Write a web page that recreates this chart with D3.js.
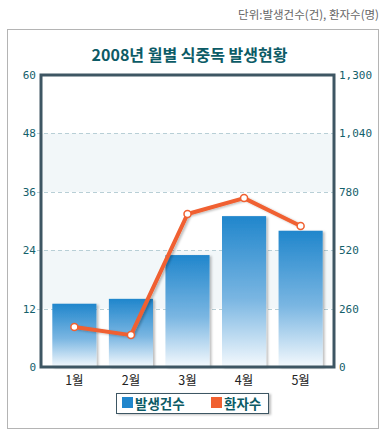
<!DOCTYPE html>
<html>
<head>
<meta charset="utf-8">
<script src="https://cdn.jsdelivr.net/npm/d3@7"></script>
<style>
  body { margin: 0; background: #fff; }
  text { font-family: "Noto Sans CJK KR", "DejaVu Sans", sans-serif; }
</style>
</head>
<body>
<div id="chart"></div>
<script>
// 데이터
const months = ['1월', '2월', '3월', '4월', '5월'];
const cases = [13, 14, 23, 31, 28];          // 발생건수 (건)
const patients = [178, 142, 681, 752, 628];  // 환자수 (명)
const leftTicks = [0, 12, 24, 36, 48, 60];
const rightTicks = [0, 260, 520, 780, 1040, 1300];

const W = 386, H = 438;
const plot = {left: 41, right: 334, top: 75, bottom: 367};

const svg = d3.select('#chart').append('svg')
    .attr('width', W)
    .attr('height', H);

const defs = svg.append('defs');
const grad = defs.append('linearGradient')
    .attr('id', 'barGrad')
    .attr('x1', 0).attr('y1', 0).attr('x2', 0).attr('y2', 1);
grad.append('stop').attr('offset', '0%').attr('stop-color', '#2086cc');
grad.append('stop').attr('offset', '55%').attr('stop-color', '#7ab6e2');
grad.append('stop').attr('offset', '100%').attr('stop-color', '#f4f9fd');

const shadow = defs.append('filter').attr('id', 'shadow')
    .attr('x', '-20%').attr('y', '-20%').attr('width', '150%').attr('height', '150%');
shadow.append('feDropShadow')
    .attr('dx', 2).attr('dy', 1).attr('stdDeviation', 1.2)
    .attr('flood-color', '#000').attr('flood-opacity', 0.25);

// 단위 텍스트
svg.append('text')
    .attr('x', 379).attr('y', 19)
    .attr('text-anchor', 'end')
    .style('font-size', '11.5px')
    .style('fill', '#666')
    .text('단위:발생건수(건), 환자수(명)');

// 바깥 테두리
svg.append('rect')
    .attr('x', 7.5).attr('y', 29.5)
    .attr('width', 371).attr('height', 399)
    .attr('fill', '#fff')
    .attr('stroke', '#b4b4b4');

// 제목
svg.append('text')
    .attr('x', (plot.left + plot.right) / 2 + 2).attr('y', 61)
    .attr('text-anchor', 'middle')
    .style('font-size', '16px')
    .style('font-weight', 'bold')
    .style('fill', '#0c5b66')
    .text('2008년 월별 식중독 발생현황');

// 스케일
const x = d3.scaleBand()
    .domain(months)
    .range([plot.left, plot.right])
    .paddingInner(0.22)
    .paddingOuter(0.2);

const yL = d3.scaleLinear().domain([0, 60]).range([plot.bottom, plot.top]);
const yR = d3.scaleLinear().domain([0, 1300]).range([plot.bottom, plot.top]);

// 배경 밴드
const bands = [[12, 24], [36, 48]];
svg.selectAll('.band')
    .data(bands)
    .enter()
    .append('rect')
    .attr('x', plot.left)
    .attr('y', d => yL(d[1]))
    .attr('width', plot.right - plot.left)
    .attr('height', d => yL(d[0]) - yL(d[1]))
    .attr('fill', '#f2f7f9');

// 그리드 선
svg.selectAll('.grid')
    .data(leftTicks.filter(d => d > 0 && d < 60))
    .enter()
    .append('line')
    .attr('x1', plot.left - 4)
    .attr('x2', plot.right + 4)
    .attr('y1', d => Math.round(yL(d)) + 0.5)
    .attr('y2', d => Math.round(yL(d)) + 0.5)
    .style('stroke', '#b8cfd6')
    .style('stroke-dasharray', '4,3');

// 막대
svg.selectAll('.bar')
    .data(cases)
    .enter()
    .append('rect')
    .attr('x', (d, i) => x(months[i]))
    .attr('y', d => yL(d))
    .attr('width', x.bandwidth())
    .attr('height', d => yL(0) - yL(d))
    .attr('fill', 'url(#barGrad)')
    .attr('filter', 'url(#shadow)');

// 플롯 테두리
svg.append('rect')
    .attr('x', plot.left).attr('y', plot.top)
    .attr('width', plot.right - plot.left)
    .attr('height', plot.bottom - plot.top)
    .attr('fill', 'none')
    .attr('stroke', '#3e5663')
    .attr('stroke-width', 3);

// 꺾은선
const line = d3.line()
    .x((d, i) => x(months[i]) + x.bandwidth() / 2)
    .y(d => yR(d));

svg.append('path')
    .datum(patients)
    .attr('d', line)
    .attr('fill', 'none')
    .attr('stroke', '#f06030')
    .attr('stroke-width', 4)
    .attr('stroke-linejoin', 'round')
    .attr('filter', 'url(#shadow)');

svg.selectAll('.pt')
    .data(patients)
    .enter()
    .append('circle')
    .attr('cx', (d, i) => x(months[i]) + x.bandwidth() / 2)
    .attr('cy', d => yR(d))
    .attr('r', 3.5)
    .attr('fill', '#fff')
    .attr('stroke', '#f06030')
    .attr('stroke-width', 1.5);

// 왼쪽 축 라벨
svg.selectAll('.yl')
    .data(leftTicks)
    .enter()
    .append('text')
    .attr('x', 36)
    .attr('y', d => yL(d) + 4)
    .attr('text-anchor', 'end')
    .style('font-family', '"DejaVu Sans Mono", monospace')
    .style('font-size', '11px')
    .style('fill', '#14606b')
    .text(d => d);

// 오른쪽 축 라벨
svg.selectAll('.yr')
    .data(rightTicks)
    .enter()
    .append('text')
    .attr('x', 339)
    .attr('y', d => yR(d) + 4)
    .style('font-family', '"DejaVu Sans Mono", monospace')
    .style('font-size', '11px')
    .style('fill', '#14606b')
    .text(d => d3.format(',')(d));

// X축 라벨
svg.selectAll('.xl')
    .data(months)
    .enter()
    .append('text')
    .attr('x', d => x(d) + x.bandwidth() / 2)
    .attr('y', 385)
    .attr('text-anchor', 'middle')
    .style('font-size', '12.5px')
    .style('fill', '#222')
    .text(d => d);

// 범례
const legend = svg.append('g');
legend.append('rect')
    .attr('x', 116.5).attr('y', 393.5)
    .attr('width', 152).attr('height', 20)
    .attr('fill', '#fff')
    .attr('stroke', '#3e5663')
    .attr('filter', 'url(#shadow)');

const legendItems = [
    {label: '발생건수', color: '#2086cc', x: 122},
    {label: '환자수', color: '#f06030', x: 211}
];
legendItems.forEach(d => {
    legend.append('rect')
        .attr('x', d.x).attr('y', 397)
        .attr('width', 11).attr('height', 11)
        .attr('fill', d.color);
    legend.append('text')
        .attr('x', d.x + 13).attr('y', 408.5)
        .style('font-size', '13.5px')
        .style('font-weight', 'bold')
        .style('fill', '#0c5b66')
        .text(d.label);
});
</script>
</body>
</html>
